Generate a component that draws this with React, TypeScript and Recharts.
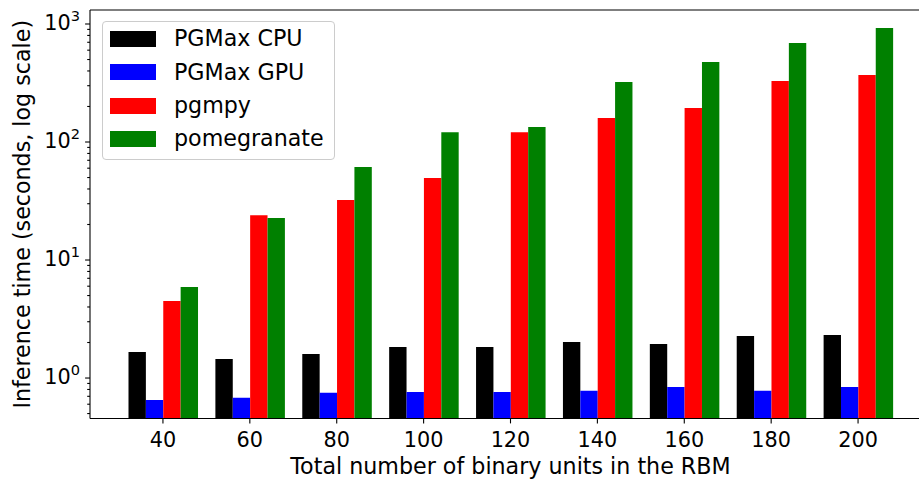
import React from 'react';
import { BarChart, Bar, XAxis, YAxis, Legend, Label, ReferenceLine } from 'recharts';

const categories = [40, 60, 80, 100, 120, 140, 160, 180, 200];
const pgmaxCpu = [1.66, 1.45, 1.6, 1.83, 1.83, 2.02, 1.94, 2.27, 2.31];
const pgmaxGpu = [0.65, 0.68, 0.75, 0.76, 0.76, 0.78, 0.84, 0.78, 0.84];
const pgmpy = [4.5, 24, 32.2, 49.5, 121, 160, 194, 329, 370];
const pomegranate = [5.9, 22.7, 61.4, 121, 134, 322, 476, 690, 925];

const seriesKeys = ['cpu', 'gpu', 'pgmpy', 'pom'];
const seriesNames = ['PGMax CPU', 'PGMax GPU', 'pgmpy', 'pomegranate'];
const seriesColors = ['#000000', '#0000ff', '#ff0000', '#008000'];

const majorTicks = [1, 10, 100, 1000];
const minorTicks = [
  0.5, 0.6, 0.7, 0.8, 0.9,
  2, 3, 4, 5, 6, 7, 8, 9,
  20, 30, 40, 50, 60, 70, 80, 90,
  200, 300, 400, 500, 600, 700, 800, 900,
];
const yTicks = [...minorTicks, ...majorTicks].sort((a, b) => a - b);
const yDomain = [0.454, 1314];

const data = categories.map((n, i) => ({
  n,
  cpu: pgmaxCpu[i],
  gpu: pgmaxGpu[i],
  pgmpy: pgmpy[i],
  pom: pomegranate[i],
}));

const FONT = '"DejaVu Sans", sans-serif';

function YTick(props: any) {
  const { x, y, payload } = props;
  const v = payload.value as number;
  const lg = Math.log10(v);
  const exp = Math.round(lg);
  const major = Math.abs(lg - exp) < 1e-9;
  return (
    <g>
      <line x1={x - (major ? 4.9 : 2.8)} x2={x} y1={y} y2={y} stroke="#000" strokeWidth={1.1} />
      {major && (
        <text x={x - 10} y={y + 6} textAnchor="end" fontSize={20.8} fill="#000" fontFamily={FONT}>
          10
          <tspan dy={-9} fontSize={14.6}>{exp}</tspan>
        </text>
      )}
    </g>
  );
}

function XTick(props: any) {
  const { x, y, payload } = props;
  return (
    <g>
      <line x1={x} x2={x} y1={y} y2={y + 4.9} stroke="#000" strokeWidth={1.1} />
      <text x={x} y={y + 28.5} textAnchor="middle" fontSize={20.8} fill="#000" fontFamily={FONT}>
        {payload.value}
      </text>
    </g>
  );
}

function renderLegend() {
  return (
    <div
      style={{
        position: 'relative',
        width: '100%',
        height: '100%',
        boxSizing: 'border-box',
        border: '1px solid #cccccc',
        borderRadius: 4,
        background: 'rgba(255,255,255,0.8)',
        fontFamily: FONT,
      }}
    >
      {seriesNames.map((name, i) => (
        <div
          key={name}
          style={{ position: 'absolute', left: 0, top: 17.3 + 33.3 * i - 16.65, height: 33.3, width: '100%' }}
        >
          <div
            style={{
              position: 'absolute',
              left: 7.3,
              top: 16.65 - 8,
              width: 46,
              height: 16,
              background: seriesColors[i],
            }}
          />
          <div
            style={{
              position: 'absolute',
              left: 71.3,
              top: 0,
              lineHeight: '33.3px',
              fontSize: 22.2,
              color: '#000',
              whiteSpace: 'nowrap',
            }}
          >
            {name}
          </div>
        </div>
      ))}
    </div>
  );
}

export default function App() {
  return (
    <div
      style={{
        position: 'absolute',
        left: 0,
        top: 0,
        width: 919,
        height: 479,
        overflow: 'hidden',
        background: '#fff',
        fontFamily: FONT,
      }}
    >
      <BarChart
        width={931}
        height={479}
        data={data}
        margin={{ top: 10, right: 0, left: 0, bottom: 0 }}
        barCategoryGap="10%"
        barGap={0}
        barSize={17.38}
      >
        <XAxis
          dataKey="n"
          type="category"
          height={60.5}
          padding={{ left: 29.5, right: 29.5 }}
          tickSize={0}
          tickMargin={0}
          tickLine={false}
          tick={<XTick />}
          interval={0}
          axisLine={{ stroke: '#000', strokeWidth: 1.1 }}
        >
          <Label
            content={(p: any) => {
              const vb = p.viewBox;
              return (
                <text
                  x={vb.x + vb.width / 2}
                  y={vb.y + 55.5}
                  textAnchor="middle"
                  fontSize={22.2}
                  fill="#000"
                  fontFamily={FONT}
                >
                  Total number of binary units in the RBM
                </text>
              );
            }}
          />
        </XAxis>
        <YAxis
          type="number"
          scale="log"
          domain={yDomain}
          allowDataOverflow
          ticks={yTicks}
          interval={0}
          width={90}
          tickSize={0}
          tickMargin={0}
          tickLine={false}
          tick={<YTick />}
          axisLine={{ stroke: '#000', strokeWidth: 1.1 }}
        >
          <Label
            content={(p: any) => {
              const vb = p.viewBox;
              const cx = vb.x + 29.5;
              const cy = vb.y + vb.height / 2;
              return (
                <text
                  x={cx}
                  y={cy}
                  transform={`rotate(-90, ${cx}, ${cy})`}
                  textAnchor="middle"
                  fontSize={22.2}
                  fill="#000"
                  fontFamily={FONT}
                >
                  Inference time (seconds, log scale)
                </text>
              );
            }}
          />
        </YAxis>
        <Legend
          layout="vertical"
          align="center"
          verticalAlign="middle"
          content={renderLegend}
          wrapperStyle={{ position: 'absolute', left: 101.7, top: 20.7, width: 233.3, height: 139.3 }}
        />
        {seriesKeys.map((k, i) => (
          <Bar
            key={k}
            dataKey={k}
            name={seriesNames[i]}
            fill={seriesColors[i]}
            isAnimationActive={false}
          />
        ))}
        <ReferenceLine y={yDomain[1]} stroke="#000" strokeWidth={1.1} ifOverflow="extendDomain" />
      </BarChart>
    </div>
  );
}
